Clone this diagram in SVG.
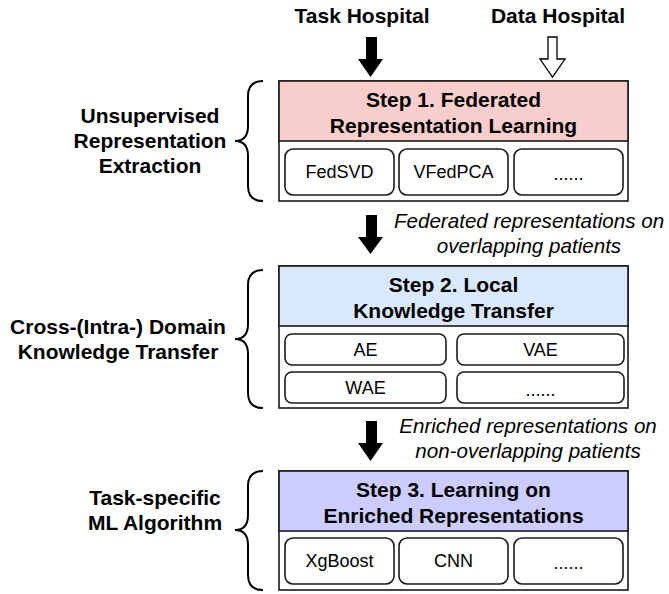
<svg xmlns="http://www.w3.org/2000/svg" width="669" height="594" viewBox="0 0 669 594">
  <style>
    .bold { font-family: "Liberation Sans", Arial, sans-serif; font-weight: bold; font-size: 21px; fill: #000; text-anchor: middle; }
    .item { font-family: "Liberation Sans", Arial, sans-serif; font-size: 18px; fill: #000; text-anchor: middle; }
    .note { font-family: "Liberation Sans", Arial, sans-serif; font-style: italic; font-size: 20.6px; fill: #000; text-anchor: middle; }
    .frame { fill: #fff; stroke: #1a1a1a; stroke-width: 1.6; }
    .sub { fill: #fff; stroke: #1a1a1a; stroke-width: 1.6; }
    .brace { fill: none; stroke: #000; stroke-width: 2; }
    .solid { fill: #000; stroke: none; }
    .hollow { fill: #fff; stroke: #000; stroke-width: 1.3; }
  </style>

  <!-- source labels -->
  <g id="task-hospital">
    <text class="bold" x="362" y="23">Task Hospital</text>
  </g>
  <g id="data-hospital">
    <text class="bold" x="558" y="23">Data Hospital</text>
  </g>

  <!-- step 1 -->
  <g id="step1">
    <rect class="frame" x="279" y="81" width="349" height="120"/>
    <rect x="279" y="81" width="349" height="60" fill="#f8cecc" stroke="#1a1a1a" stroke-width="1.6"/>
    <text class="bold" x="453.5" y="107">Step 1. Federated</text>
    <text class="bold" x="453.5" y="133">Representation Learning</text>
    <rect class="sub" x="285" y="149" width="109" height="46" rx="8"/>
    <text class="item" x="339.5" y="178">FedSVD</text>
    <rect class="sub" x="399" y="149" width="109" height="46" rx="8"/>
    <text class="item" x="453.5" y="178">VFedPCA</text>
    <rect class="sub" x="514" y="149" width="109" height="46" rx="8"/>
    <text class="item" x="568.5" y="180">......</text>
  </g>
  <g id="label1">
    <text class="bold" x="150" y="123">Unsupervised</text>
    <text class="bold" x="150" y="148">Representation</text>
    <text class="bold" x="150" y="173">Extraction</text>
  </g>

  <!-- step 2 -->
  <g id="step2">
    <rect class="frame" x="279" y="266" width="349" height="142"/>
    <rect x="279" y="266" width="349" height="60" fill="#dae8fc" stroke="#1a1a1a" stroke-width="1.6"/>
    <text class="bold" x="453.5" y="292">Step 2. Local</text>
    <text class="bold" x="453.5" y="318">Knowledge Transfer</text>
    <rect class="sub" x="285" y="334" width="161" height="31" rx="7"/>
    <text class="item" x="365.5" y="356">AE</text>
    <rect class="sub" x="457" y="334" width="167" height="31" rx="7"/>
    <text class="item" x="540.5" y="356">VAE</text>
    <rect class="sub" x="285" y="372" width="161" height="31" rx="7"/>
    <text class="item" x="365.5" y="394">WAE</text>
    <rect class="sub" x="457" y="372" width="167" height="31" rx="7"/>
    <text class="item" x="540.5" y="396">......</text>
  </g>
  <g id="label2">
    <text class="bold" x="118" y="334">Cross-(Intra-) Domain</text>
    <text class="bold" x="118" y="359">Knowledge Transfer</text>
  </g>

  <!-- step 3 -->
  <g id="step3">
    <rect class="frame" x="279" y="471" width="349" height="119"/>
    <rect x="279" y="471" width="349" height="60" fill="#ccccff" stroke="#1a1a1a" stroke-width="1.6"/>
    <text class="bold" x="453.5" y="497">Step 3. Learning on</text>
    <text class="bold" x="453.5" y="523">Enriched Representations</text>
    <rect class="sub" x="285" y="538" width="109" height="46" rx="8"/>
    <text class="item" x="339.5" y="567">XgBoost</text>
    <rect class="sub" x="399" y="538" width="109" height="46" rx="8"/>
    <text class="item" x="453.5" y="567">CNN</text>
    <rect class="sub" x="514" y="538" width="109" height="46" rx="8"/>
    <text class="item" x="568.5" y="569">......</text>
  </g>
  <g id="label3">
    <text class="bold" x="155" y="505">Task-specific</text>
    <text class="bold" x="155" y="530">ML Algorithm</text>
  </g>

  <!-- connectors: flow arrows, braces and their notes -->
  <g id="connectors">
    <path class="solid" d="M366,37 H377 V59 H383 L370.5,77 L358,59 H366 Z"/>
    <path class="hollow" d="M548,37 H557 V59 H565 L552.5,77 L540,59 H548 Z"/>
    <path class="solid" d="M366,215 H377 V237 H383 L370.5,254 L358,237 H366 Z"/>
    <path class="solid" d="M366,421 H377 V443 H383 L370.5,461 L358,443 H366 Z"/>

    <text class="note" x="529" y="228">Federated representations on</text>
    <text class="note" x="529" y="253">overlapping patients</text>
    <text class="note" x="528" y="433">Enriched representations on</text>
    <text class="note" x="528" y="458">non-overlapping patients</text>

    <path class="brace" d="M263,81 Q248,81 248,96 L248,126 Q248,141 235,141 Q248,141 248,156 L248,186 Q248,201 263,201"/>
    <path class="brace" d="M263,270 Q248,270 248,285 L248,324 Q248,339 235,339 Q248,339 248,354 L248,393 Q248,408 263,408"/>
    <path class="brace" d="M263,471 Q248,471 248,486 L248,515 Q248,530 235,530 Q248,530 248,545 L248,575 Q248,590 263,590"/>
  </g>
</svg>
